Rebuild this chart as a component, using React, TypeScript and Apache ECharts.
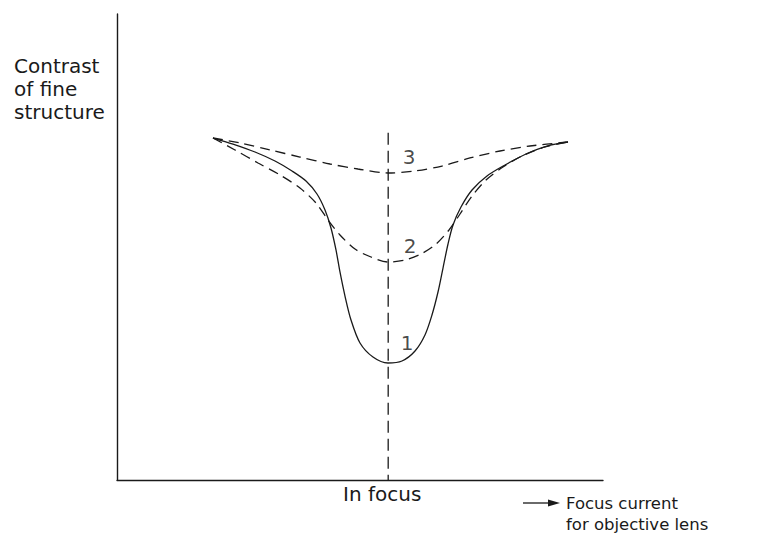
import React, { useEffect, useRef } from "react";
import * as echarts from "echarts";

// Focus current (arbitrary units, 0..100) vs contrast of fine structure (arbitrary, 0..100)
const inFocusX = 55.8;
const focusLineTop = 74.5;

const curve1: number[][] = [
  [19.75, 73.39], [23.87, 72.10], [28.40, 70.39], [32.51, 68.45], [36.01, 66.31],
  [38.89, 64.16], [41.15, 61.37], [42.80, 57.94], [44.03, 54.08], [45.06, 49.36],
  [45.88, 44.64], [46.91, 39.48], [48.15, 34.33], [50.00, 29.40], [52.67, 26.39],
  [55.76, 25.11], [58.64, 25.54], [61.32, 27.68], [63.37, 31.12], [64.81, 35.41],
  [66.05, 40.34], [67.08, 45.49], [68.11, 50.64], [69.14, 54.72], [70.78, 58.58],
  [73.05, 62.23], [76.13, 65.24], [79.84, 67.60], [84.16, 69.96], [88.48, 71.67],
  [92.80, 72.53],
];

const curve2: number[][] = [
  [19.75, 73.39], [24.28, 70.82], [29.01, 68.03], [33.54, 65.45], [37.65, 62.66],
  [40.95, 59.44], [43.42, 55.79], [45.88, 52.58], [48.97, 49.57], [52.26, 47.85],
  [55.76, 46.78], [59.26, 47.21], [62.55, 48.50], [65.64, 50.64], [68.31, 53.65],
  [70.58, 57.08], [73.05, 60.94], [75.93, 64.38], [79.42, 67.17], [83.33, 69.53],
  [88.07, 71.46], [92.80, 72.53],
];

const curve3: number[][] = [
  [19.75, 73.39], [25.31, 72.32], [31.48, 70.82], [37.65, 69.31], [43.83, 67.81],
  [49.59, 66.74], [55.76, 65.88], [61.32, 66.31], [66.87, 67.38], [72.63, 69.10],
  [78.81, 70.60], [84.98, 71.67], [92.80, 72.53],
];

const curveLabels: (number | string)[][] = [
  [60.1, 69.3, "3"],
  [60.3, 50.2, "2"],
  [59.7, 29.4, "1"],
];

const yTitle = "Contrast\nof fine\nstructure";
const focusLabel = "In focus";
const xTitle = "Focus current\nfor objective lens";

const INK = "#1a1a1a";
const FONT = "DejaVu Sans";

export default function App() {
  const ref = useRef<HTMLDivElement>(null);
  useEffect(() => {
    const chart = echarts.init(ref.current!, null, { renderer: "svg" });
    const curve = (data: number[][], type: any) => ({
      type: "line", data, smooth: 0.3, showSymbol: false, symbol: "none",
      lineStyle: { color: INK, width: 1.3, type },
    });
    chart.setOption({
      animation: false,
      backgroundColor: "#ffffff",
      grid: { left: 117, right: 162, top: 14, bottom: 63 },
      xAxis: {
        type: "value", min: 0, max: 100,
        axisLine: { show: true, lineStyle: { color: INK, width: 1.4 } },
        axisTick: { show: false }, axisLabel: { show: false }, splitLine: { show: false },
      },
      yAxis: {
        type: "value", min: 0, max: 100,
        axisLine: { show: true, lineStyle: { color: INK, width: 1.4 } },
        axisTick: { show: false }, axisLabel: { show: false }, splitLine: { show: false },
      },
      series: [
        curve(curve1, "solid"),
        curve(curve2, [10, 6]),
        curve(curve3, [10, 6]),
        {
          type: "line", data: [[inFocusX, focusLineTop], [inFocusX, 0]], showSymbol: false, symbol: "none",
          lineStyle: { color: INK, width: 1.3, type: [12, 6] },
        },
        {
          type: "scatter", data: curveLabels, symbolSize: 0,
          label: {
            show: true, position: "inside", formatter: (p: any) => p.value[2],
            color: INK, fontFamily: FONT, fontSize: 20,
          },
        },
      ],
      graphic: [
        {
          type: "text", left: 14, top: 54,
          style: { text: yTitle, font: `20px "${FONT}"`, fill: INK, lineHeight: 23 },
        },
        {
          type: "text", left: 343, top: 484,
          style: { text: focusLabel, font: `20px "${FONT}"`, fill: INK },
        },
        {
          type: "line", shape: { x1: 523, y1: 503, x2: 552, y2: 503 },
          style: { stroke: INK, lineWidth: 1.3 },
        },
        {
          type: "polygon", shape: { points: [[548, 499.5], [560, 503], [548, 506.5]] },
          style: { fill: INK },
        },
        {
          type: "text", left: 566, top: 493,
          style: { text: xTitle, font: `16.5px "${FONT}"`, fill: INK, lineHeight: 21 },
        },
      ],
    });
    return () => chart.dispose();
  }, []);
  return (
    <div
      ref={ref}
      style={{ position: "absolute", left: 0, top: 0, width: 765, height: 543, background: "#fff" }}
    />
  );
}
